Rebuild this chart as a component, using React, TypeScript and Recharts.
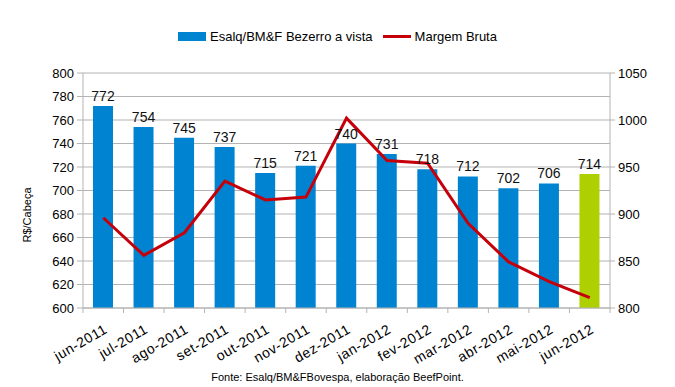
import { Bar, Cell, ComposedChart, LabelList, Line, XAxis, YAxis, CartesianGrid } from 'recharts'

const months = ['jun-2011', 'jul-2011', 'ago-2011', 'set-2011', 'out-2011', 'nov-2011', 'dez-2011', 'jan-2012', 'fev-2012', 'mar-2012', 'abr-2012', 'mai-2012', 'jun-2012']
const bezerro = [772, 754, 745, 737, 715, 721, 740, 731, 718, 712, 702, 706, 714]
const margem = [896, 856, 880, 935, 915, 918, 1002, 957, 954, 890, 849, 828, 811]
const leftTicks = [600, 620, 640, 660, 680, 700, 720, 740, 760, 780, 800]
const rightTicks = [800, 850, 900, 950, 1000, 1050]

const BLUE = '#0084d1'
const GREEN = '#aecf00'
const RED = '#c5000b'
const GRID = '#b3b3b3'
const FONT = '"Liberation Sans", Arial, sans-serif'

const data = months.map((m, i) => ({ month: m, bezerro: bezerro[i], margem: margem[i] }))

const BAND = (610 - 83) / months.length

function MonthTick(props: any) {
  const { x, y, payload, index } = props
  return (
    <g>
      <line x1={x - BAND / 2} y1={y} x2={x - BAND / 2} y2={y + 5} stroke={GRID} />
      {index === months.length - 1 && <line x1={x + BAND / 2} y1={y} x2={x + BAND / 2} y2={y + 5} stroke={GRID} />}
      <text x={x + 5} y={y + 24} textAnchor="end" fontSize={14} letterSpacing={0.6} fill="#000" fontFamily={FONT}
        transform={`rotate(-30, ${x + 5}, ${y + 24})`}>
        {payload.value}
      </text>
    </g>
  )
}

function App() {
  return (
    <div style={{ position: 'absolute', left: 0, top: 0, width: 675, height: 387, background: '#fff', fontFamily: FONT }}>
      <div style={{ position: 'absolute', top: 29, left: 0, width: 675, display: 'flex', justifyContent: 'center', fontSize: 13, color: '#000' }}>
        <div style={{ display: 'flex', alignItems: 'center', marginRight: 10 }}>
          <div style={{ width: 28, height: 9, background: BLUE, marginRight: 4 }} />
          <span>Esalq/BM&amp;F Bezerro a vista</span>
        </div>
        <div style={{ display: 'flex', alignItems: 'center' }}>
          <div style={{ width: 28, height: 3, background: RED, marginRight: 4 }} />
          <span>Margem Bruta</span>
        </div>
      </div>
      <ComposedChart width={675} height={387} data={data} margin={{ top: 73, right: 0, bottom: 0, left: 0 }}>
        <CartesianGrid vertical={false} stroke={GRID} yAxisId="left" />
        <XAxis dataKey="month" height={79} interval={0} tickLine={false} tickSize={0} tickMargin={0}
          stroke={GRID} tick={<MonthTick />} />
        <YAxis yAxisId="left" width={83} domain={[600, 800]} ticks={leftTicks} interval={0}
          stroke={GRID} tickSize={6} tickMargin={3}
          tick={{ fontSize: 13, fill: '#000', fontFamily: FONT }}
          label={{ value: 'R$/Cabeça', angle: -90, position: 'insideLeft', offset: 0,
            content: () => (
              <text x={31} y={215} transform="rotate(-90, 31, 215)" textAnchor="middle" fontSize={11} fill="#000" fontFamily={FONT}>R$/Cabeça</text>
            ) }} />
        <YAxis yAxisId="right" orientation="right" width={65} domain={[800, 1050]} ticks={rightTicks} interval={0}
          stroke={GRID} tickSize={5} tickMargin={3}
          tick={{ fontSize: 13, fill: '#000', fontFamily: FONT }} />
        <Bar yAxisId="left" dataKey="bezerro" barSize={20} fill={BLUE} isAnimationActive={false}>
          {data.map((d, i) => (
            <Cell key={d.month} fill={i === data.length - 1 ? GREEN : BLUE} />
          ))}
          <LabelList dataKey="bezerro" position="top" offset={5} fontSize={14} fill="#111" fontFamily={FONT} />
        </Bar>
        <Line yAxisId="right" dataKey="margem" stroke={RED} strokeWidth={3} dot={false} isAnimationActive={false} />
      </ComposedChart>
      <div style={{ position: 'absolute', top: 371, left: 0, width: 675, textAlign: 'center', fontSize: 11, color: '#000' }}>
        Fonte: Esalq/BM&amp;FBovespa, elaboração BeefPoint.
      </div>
    </div>
  )
}

export default App
